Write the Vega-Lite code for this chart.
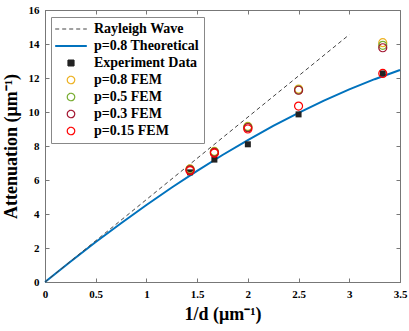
{
  "$schema": "https://vega.github.io/schema/vega-lite/v6.json",
  "width": 355,
  "height": 272,
  "autosize": "none",
  "padding": {"left": 45, "top": 10, "right": 9, "bottom": 49},
  "background": "white",
  "config": {
    "view": {"stroke": "#777", "strokeWidth": 1},
    "axis": {
      "labelFont": "Liberation Serif", "labelFontWeight": "bold", "labelFontSize": 11, "labelColor": "#000",
      "titleFont": "Liberation Serif", "titleFontWeight": "bold", "titleFontSize": 18, "titleColor": "#000",
      "domainColor": "#777", "tickColor": "#777", "tickSize": -4, "grid": false, "format": ".1~f"
    }
  },
  "data": {"values": [
    {"series": "Rayleigh Wave", "x": 0, "y": 0},
    {"series": "Rayleigh Wave", "x": 3, "y": 14.55},
    {"series": "p=0.8 Theoretical", "x": 0, "y": 0},
    {"series": "p=0.8 Theoretical", "x": 0.25, "y": 1.19},
    {"series": "p=0.8 Theoretical", "x": 0.5, "y": 2.35},
    {"series": "p=0.8 Theoretical", "x": 0.75, "y": 3.46},
    {"series": "p=0.8 Theoretical", "x": 1.0, "y": 4.53},
    {"series": "p=0.8 Theoretical", "x": 1.25, "y": 5.56},
    {"series": "p=0.8 Theoretical", "x": 1.5, "y": 6.54},
    {"series": "p=0.8 Theoretical", "x": 1.75, "y": 7.47},
    {"series": "p=0.8 Theoretical", "x": 2.0, "y": 8.35},
    {"series": "p=0.8 Theoretical", "x": 2.25, "y": 9.18},
    {"series": "p=0.8 Theoretical", "x": 2.5, "y": 9.95},
    {"series": "p=0.8 Theoretical", "x": 2.75, "y": 10.67},
    {"series": "p=0.8 Theoretical", "x": 3.0, "y": 11.33},
    {"series": "p=0.8 Theoretical", "x": 3.25, "y": 11.93},
    {"series": "p=0.8 Theoretical", "x": 3.5, "y": 12.47},
    {"series": "Experiment Data", "x": 1.43, "y": 6.45},
    {"series": "Experiment Data", "x": 1.67, "y": 7.2},
    {"series": "Experiment Data", "x": 2.0, "y": 8.1},
    {"series": "Experiment Data", "x": 2.5, "y": 9.86},
    {"series": "Experiment Data", "x": 3.33, "y": 12.27},
    {"series": "p=0.8 FEM", "x": 1.43, "y": 6.65},
    {"series": "p=0.8 FEM", "x": 1.67, "y": 7.68},
    {"series": "p=0.8 FEM", "x": 2.0, "y": 9.15},
    {"series": "p=0.8 FEM", "x": 2.5, "y": 11.35},
    {"series": "p=0.8 FEM", "x": 3.33, "y": 14.08},
    {"series": "p=0.5 FEM", "x": 1.43, "y": 6.62},
    {"series": "p=0.5 FEM", "x": 1.67, "y": 7.65},
    {"series": "p=0.5 FEM", "x": 2.0, "y": 9.12},
    {"series": "p=0.5 FEM", "x": 2.5, "y": 11.3},
    {"series": "p=0.5 FEM", "x": 3.33, "y": 13.92},
    {"series": "p=0.3 FEM", "x": 1.43, "y": 6.6},
    {"series": "p=0.3 FEM", "x": 1.67, "y": 7.62},
    {"series": "p=0.3 FEM", "x": 2.0, "y": 9.08},
    {"series": "p=0.3 FEM", "x": 2.5, "y": 11.28},
    {"series": "p=0.3 FEM", "x": 3.33, "y": 13.78},
    {"series": "p=0.15 FEM", "x": 1.43, "y": 6.55},
    {"series": "p=0.15 FEM", "x": 1.67, "y": 7.58},
    {"series": "p=0.15 FEM", "x": 2.0, "y": 9.0},
    {"series": "p=0.15 FEM", "x": 2.5, "y": 10.35},
    {"series": "p=0.15 FEM", "x": 3.33, "y": 12.27}
  ]},
  "encoding": {
    "color": {"field": "series", "type": "nominal",
      "scale": {"domain": ["Rayleigh Wave", "p=0.8 Theoretical", "Experiment Data", "p=0.8 FEM", "p=0.5 FEM", "p=0.3 FEM", "p=0.15 FEM"],
                "range": ["#444444", "#0072BD", "#222222", "#EDB120", "#77AC30", "#A2142F", "#FF0000"]},
      "legend": {
        "orient": "none", "legendX": 6, "legendY": 7, "title": null,
        "strokeColor": "#888", "fillColor": "white", "padding": 5,
        "labelFont": "Liberation Serif", "labelFontWeight": "bold", "labelFontSize": 14, "labelColor": "#000",
        "symbolSize": 64, "rowPadding": 3, "labelOffset": 24, "symbolType": "circle",
        "encode": {"symbols": {"update": {
          "shape": {"signal": "datum.value === 'Rayleigh Wave' || datum.value === 'p=0.8 Theoretical' ? 'stroke' : (datum.value === 'Experiment Data' ? 'square' : 'circle')"},
          "size": {"signal": "datum.value === 'Rayleigh Wave' || datum.value === 'p=0.8 Theoretical' ? 1000 : (datum.value === 'Experiment Data' ? 36 : 56)"},
          "fillOpacity": {"signal": "datum.value === 'Experiment Data' ? 1 : 0"},
          "strokeDash": {"signal": "datum.value === 'Rayleigh Wave' ? [4, 3] : [1, 0]"},
          "strokeWidth": {"signal": "datum.value === 'p=0.8 Theoretical' ? 2 : 1.2"},
          "x": {"value": 15}
        }}}
      }
    }
  },
  "layer": [
    {
      "transform": [{"filter": "datum.series === 'p=0.8 Theoretical'"}],
      "mark": {"type": "line", "strokeWidth": 2},
      "encoding": {
        "x": {"field": "x", "type": "quantitative", "scale": {"domain": [0, 3.5], "nice": false}, "axis": {"orient": "top", "labels": false, "title": null, "values": [0, 0.5, 1, 1.5, 2, 2.5, 3, 3.5], "domain": false}},
        "y": {"field": "y", "type": "quantitative", "scale": {"domain": [0, 16], "nice": false}, "axis": {"orient": "right", "labels": false, "title": null, "values": [0, 2, 4, 6, 8, 10, 12, 14, 16], "domain": false}}
      }
    },
    {
      "transform": [{"filter": "datum.series === 'Rayleigh Wave'"}],
      "mark": {"type": "line", "strokeWidth": 1, "strokeDash": [4, 3]},
      "encoding": {
        "x": {"field": "x", "type": "quantitative", "axis": null},
        "y": {"field": "y", "type": "quantitative", "axis": null}
      }
    },
    {
      "transform": [{"filter": "datum.series === 'Experiment Data'"}],
      "mark": {"type": "point", "filled": true, "shape": "square", "size": 36, "opacity": 1},
      "encoding": {
        "x": {"field": "x", "type": "quantitative", "axis": null},
        "y": {"field": "y", "type": "quantitative", "axis": null}
      }
    },
    {
      "transform": [{"filter": "indexof(['p=0.8 FEM','p=0.5 FEM','p=0.3 FEM','p=0.15 FEM'], datum.series) >= 0"}],
      "mark": {"type": "point", "filled": false, "size": 64, "strokeWidth": 1.2, "opacity": 1},
      "encoding": {
        "x": {"field": "x", "type": "quantitative", "axis": {"orient": "bottom", "title": "1/d (μm⁻¹)", "values": [0, 0.5, 1, 1.5, 2, 2.5, 3, 3.5], "labelPadding": 10, "titlePadding": 6, "labelFlush": false}},
        "y": {"field": "y", "type": "quantitative", "axis": {"orient": "left", "title": "Attenuation (μm⁻¹)", "values": [0, 2, 4, 6, 8, 10, 12, 14, 16], "labelPadding": 10, "titlePadding": 8, "labelFlush": false}}
      }
    }
  ],
  "resolve": {"axis": {"x": "independent", "y": "independent"}}
}
